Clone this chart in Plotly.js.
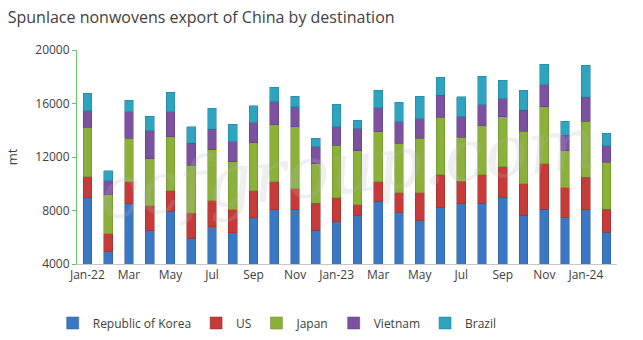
<!DOCTYPE html>
<html>
<head>
<meta charset="utf-8">
<script src="https://cdn.plot.ly/plotly-3.0.1.min.js"></script>
<style>html,body{margin:0;padding:0;background:#fff}#chart{width:643px;height:340px}</style>
</head>
<body>
<div id="chart"></div>
<script>
const months = ["Jan-22","Feb-22","Mar-22","Apr-22","May-22","Jun-22","Jul-22","Aug-22","Sep-22","Oct-22","Nov-22","Dec-22",
  "Jan-23","Feb-23","Mar-23","Apr-23","May-23","Jun-23","Jul-23","Aug-23","Sep-23","Oct-23","Nov-23","Dec-23",
  "Jan-24","Feb-24"];
const tickLabels = ["Jan-22","Mar","May","Jul","Sep","Nov","Jan-23","Mar","May","Jul","Sep","Nov","Jan-24"];
const korea   = [8935,4900,8510,6470,7940,5940,6770,6340,7460,8040,8040,6540,7160,7610,8710,7840,7240,8210,8490,8560,8935,7660,8090,7440,8040,6390];
const us      = [1590,1370,1645,1895,1520,1870,1945,1720,2020,2115,1595,1995,1795,820,1445,1470,2070,2465,1695,2095,2320,2340,3410,2270,2440,1720];
const japan   = [3694,2890,3265,3490,4040,3590,3815,3590,3590,4260,4635,2965,3940,4040,3715,3715,4110,4315,3290,3665,3740,3940,4240,2740,4210,3515];
const vietnam = [1240,1050,1970,2120,1890,1645,1545,1495,1500,1720,1495,1270,1370,1645,1815,1615,1445,1645,1520,1570,1345,1570,1645,1195,1795,1220];
const brazil  = [1300,750,850,1075,1450,1220,1570,1300,1245,1075,775,630,1675,630,1300,1450,1670,1325,1520,2145,1400,1475,1545,1025,2370,925];

const series = [
  {name:"Republic of Korea", y:korea,   color:"#3b78c4", line:"#2a5a96"},
  {name:"US",                y:us,      color:"#c63a3a", line:"#962a2a"},
  {name:"Japan",             y:japan,   color:"#8bb13a", line:"#6a8a28"},
  {name:"Vietnam",           y:vietnam, color:"#7b51a0", line:"#5c3a7a"},
  {name:"Brazil",            y:brazil,  color:"#2ea4c0", line:"#217c92"}
];
const traces = series.map(s => ({
  type:"bar", name:s.name, x:months, y:s.y,
  marker:{color:s.color, line:{color:s.line, width:0.5}}
}));
const tickvals = months.filter((m,i)=>i%2===0);

const layout = {
  width:643, height:340,
  margin:{l:77, r:26, t:50, b:76, autoexpand:false},
  paper_bgcolor:"#fff", plot_bgcolor:"rgba(0,0,0,0)",
  barmode:"stack", bargap:0.58,
  title:{text:"Spunlace nonwovens export of China by destination", x:0.012, xanchor:"left", y:0.948, yanchor:"middle",
         font:{family:"Open Sans, sans-serif", size:16, color:"#404040"}},
  font:{family:"Open Sans, sans-serif", size:12, color:"#404040"},
  xaxis:{type:"category", tickvals:tickvals, ticktext:tickLabels, range:[-0.5,25.5],
         showline:true, linecolor:"#c8c8c8", linewidth:1, ticks:"", showgrid:false, zeroline:false,
         tickfont:{size:12, color:"#404040"}},
  yaxis:{range:[4000,20000], tickvals:[4000,8000,12000,16000,20000], tickformat:"d",
         showline:true, linecolor:"#66cc66", linewidth:1, ticks:"outside", ticklen:4, tickcolor:"#66cc66",
         showgrid:false, zeroline:false, tickfont:{size:12, color:"#404040"},
         title:{text:"mt", standoff:14, font:{size:13, color:"#404040"}}},
  legend:{orientation:"h", xref:"container", yref:"container", x:0.082, xanchor:"left", y:0.05, yanchor:"middle",
          font:{size:12, color:"#404040"}, itemwidth:30, traceorder:"normal"},
  showlegend:true,
  annotations:[{text:"ccfgroup.com", xref:"paper", yref:"paper", x:0.5, y:0.45, showarrow:false,
    font:{family:"DejaVu Serif, serif", size:72, color:"rgba(180,180,180,0.22)", style:"italic"}, textangle:-6}]
};
Plotly.newPlot("chart", traces, layout, {displayModeBar:false, staticPlot:true});
</script>
</body>
</html>
